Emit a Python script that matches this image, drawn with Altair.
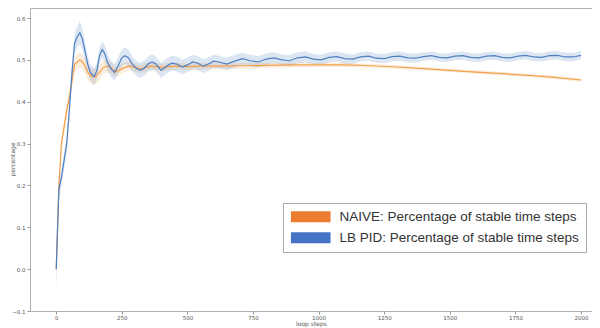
import altair as alt
import pandas as pd

NAIVE = "NAIVE: Percentage of stable time steps"
LBPID = "LB PID: Percentage of stable time steps"

# LB PID (blue) series
B_STEPS = [0, 10, 20, 30, 40, 50, 60, 70, 80, 90, 100, 110, 120, 130, 145, 155, 165, 175, 185, 195,
           210, 222, 235, 250, 262, 275, 290, 305, 320, 335, 350, 365, 380, 400, 420, 440, 460, 480,
           500, 520, 540, 560, 580, 600, 620, 650, 680, 710, 740, 770, 800, 830, 860, 890, 920, 950,
           980, 1010, 1040, 1070, 1100, 1130, 1160, 1190, 1220, 1250, 1280, 1310, 1340, 1370, 1400,
           1430, 1460, 1490, 1520, 1550, 1580, 1610, 1640, 1670, 1700, 1730, 1760, 1790, 1820, 1850,
           1880, 1910, 1940, 1970, 2000]
B_MEAN = [0.0, 0.19, 0.22, 0.26, 0.30, 0.38, 0.47, 0.54, 0.555, 0.565, 0.55, 0.52, 0.49, 0.47, 0.46,
          0.475, 0.51, 0.525, 0.515, 0.495, 0.478, 0.47, 0.485, 0.505, 0.51, 0.505, 0.49, 0.48, 0.475,
          0.48, 0.49, 0.495, 0.49, 0.475, 0.485, 0.492, 0.49, 0.483, 0.488, 0.495, 0.492, 0.485, 0.49,
          0.497, 0.495, 0.49, 0.497, 0.503, 0.498, 0.495, 0.502, 0.505, 0.5, 0.498, 0.505, 0.507,
          0.502, 0.5, 0.506, 0.508, 0.503, 0.502, 0.507, 0.509, 0.504, 0.503, 0.508, 0.509, 0.505,
          0.504, 0.508, 0.51, 0.506, 0.505, 0.509, 0.51, 0.506, 0.505, 0.509, 0.51, 0.506, 0.505,
          0.509, 0.511, 0.507, 0.506, 0.51, 0.511, 0.507, 0.507, 0.511]
B_HALF = [0.05, 0.03, 0.02, 0.02, 0.02, 0.02, 0.02, 0.025, 0.025, 0.028, 0.025, 0.022, 0.02, 0.02,
          0.02, 0.02, 0.02, 0.02, 0.02, 0.02, 0.02, 0.02, 0.02, 0.02, 0.02, 0.02, 0.018, 0.018, 0.018,
          0.018, 0.018, 0.018, 0.018, 0.018, 0.018, 0.018, 0.018, 0.018, 0.017, 0.017, 0.017, 0.017,
          0.016, 0.016, 0.015, 0.015, 0.015, 0.014, 0.014, 0.014, 0.013, 0.013, 0.013, 0.013, 0.013,
          0.013, 0.012, 0.012, 0.012, 0.012, 0.012, 0.011, 0.011, 0.011, 0.011, 0.011, 0.011, 0.011,
          0.011, 0.011, 0.01, 0.01, 0.01, 0.01, 0.01, 0.01, 0.01, 0.01, 0.01, 0.01, 0.01, 0.01, 0.01,
          0.01, 0.01, 0.01, 0.01, 0.01, 0.01, 0.01, 0.01]

# NAIVE (orange) series
N_STEPS = [0, 10, 20, 30, 40, 50, 60, 70, 80, 90, 100, 110, 120, 135, 150, 165, 180, 195, 210, 225,
           240, 260, 280, 300, 320, 340, 360, 380, 400, 430, 460, 500, 550, 600, 700, 800, 900, 1000,
           1100, 1200, 1300, 1400, 1500, 1600, 1700, 1800, 1900, 2000]
N_MEAN = [0.0, 0.2, 0.3, 0.34, 0.38, 0.41, 0.45, 0.49, 0.495, 0.5, 0.495, 0.485, 0.47, 0.46, 0.46,
          0.47, 0.482, 0.485, 0.48, 0.472, 0.475, 0.482, 0.485, 0.482, 0.478, 0.482, 0.485, 0.484,
          0.482, 0.484, 0.485, 0.484, 0.485, 0.485, 0.486, 0.487, 0.488, 0.488, 0.488, 0.486, 0.483,
          0.479, 0.475, 0.471, 0.467, 0.463, 0.458, 0.452]
N_HALF = [0.03, 0.015, 0.015, 0.015, 0.015, 0.015, 0.015, 0.018, 0.018, 0.018, 0.018, 0.018, 0.018,
          0.018, 0.018, 0.018, 0.016, 0.015, 0.014, 0.013, 0.012, 0.011, 0.01, 0.01, 0.01, 0.01,
          0.01, 0.009, 0.009, 0.009, 0.008, 0.008, 0.008, 0.007, 0.007, 0.006, 0.006, 0.005, 0.005,
          0.004, 0.004, 0.004, 0.004, 0.004, 0.004, 0.004, 0.004, 0.004]

X_TICKS = [0, 250, 500, 750, 1000, 1250, 1500, 1750, 2000]
Y_TICKS = [-0.1, 0.0, 0.1, 0.2, 0.3, 0.4, 0.5, 0.6]

rows = []
for s, m, h in zip(N_STEPS, N_MEAN, N_HALF):
    rows.append({"step": s, "mean": m, "lo": m - h, "hi": m + h, "series": NAIVE})
for s, m, h in zip(B_STEPS, B_MEAN, B_HALF):
    rows.append({"step": s, "mean": m, "lo": m - h, "hi": m + h, "series": LBPID})
df = pd.DataFrame(rows)

order = [NAIVE, LBPID]
x = alt.X("step:Q", scale=alt.Scale(domain=[-100, 2042], nice=False, zero=False),
          axis=alt.Axis(values=X_TICKS, format="d", title="loop steps", grid=False,
                        labelFontSize=5.5, titleFontSize=6, titleFontWeight="normal",
                        tickSize=3, labelPadding=1, titlePadding=0, domain=False,
                        labelColor="#555", titleColor="#555", tickColor="#999",
                        labelFont="DejaVu Sans", titleFont="DejaVu Sans"))
y_scale = alt.Scale(domain=[-0.1, 0.624], nice=False, zero=False)
line_colors = alt.Scale(domain=order, range=["#F2A04C", "#4F80C4"])

band = alt.Chart(df).mark_area(opacity=0.2, clip=True).encode(
    x=x,
    y=alt.Y("lo:Q", scale=y_scale,
            axis=alt.Axis(values=Y_TICKS, format=".1f", title="percentage", grid=False,
                          labelFontSize=5.5, titleFontSize=6, titleFontWeight="normal",
                          tickSize=3, labelPadding=2, titleX=-15, titleY=151,
                          titleAngle=270, domain=False,
                          labelColor="#555", titleColor="#555", tickColor="#999",
                          labelFont="DejaVu Sans", titleFont="DejaVu Sans")),
    y2="hi:Q",
    color=alt.Color("series:N", scale=line_colors, legend=None),
    detail="series:N",
)

lines = alt.Chart(df).mark_line(strokeWidth=1.2, clip=True).encode(
    x="step:Q",
    y="mean:Q",
    color=alt.Color("series:N", scale=line_colors, legend=None),
    detail="series:N",
)

legend_layer = alt.Chart(df).mark_point(opacity=0, size=1).encode(
    x="step:Q",
    y="mean:Q",
    fill=alt.Fill("series:N",
                  scale=alt.Scale(domain=order, range=["#ED7D31", "#4472C4"]),
                  legend=alt.Legend(title=None, orient="none", legendX=253, legendY=195,
                                    symbolType="M-3.6,-1H3.6V1H-3.6Z", symbolSize=121,
                                    symbolOpacity=1, symbolStrokeWidth=0,
                                    symbolOffset=14, labelOffset=22,
                                    labelFontSize=13.5, labelFont="Liberation Sans",
                                    labelColor="#333", rowPadding=6, padding=7,
                                    strokeColor="#aaa", fillColor="white", labelLimit=400)),
)

chart = alt.layer(band, lines, legend_layer).resolve_scale(fill="independent").properties(
    width=562, height=303,
    autosize=alt.AutoSizeParams(type="none"),
    padding={"left": 22, "top": 0, "right": 0, "bottom": 17},
    background="white",
).configure_view(stroke="#b0b0b0", strokeWidth=1)

chart.save("out.html", embed_options={"renderer": "svg", "actions": False})
